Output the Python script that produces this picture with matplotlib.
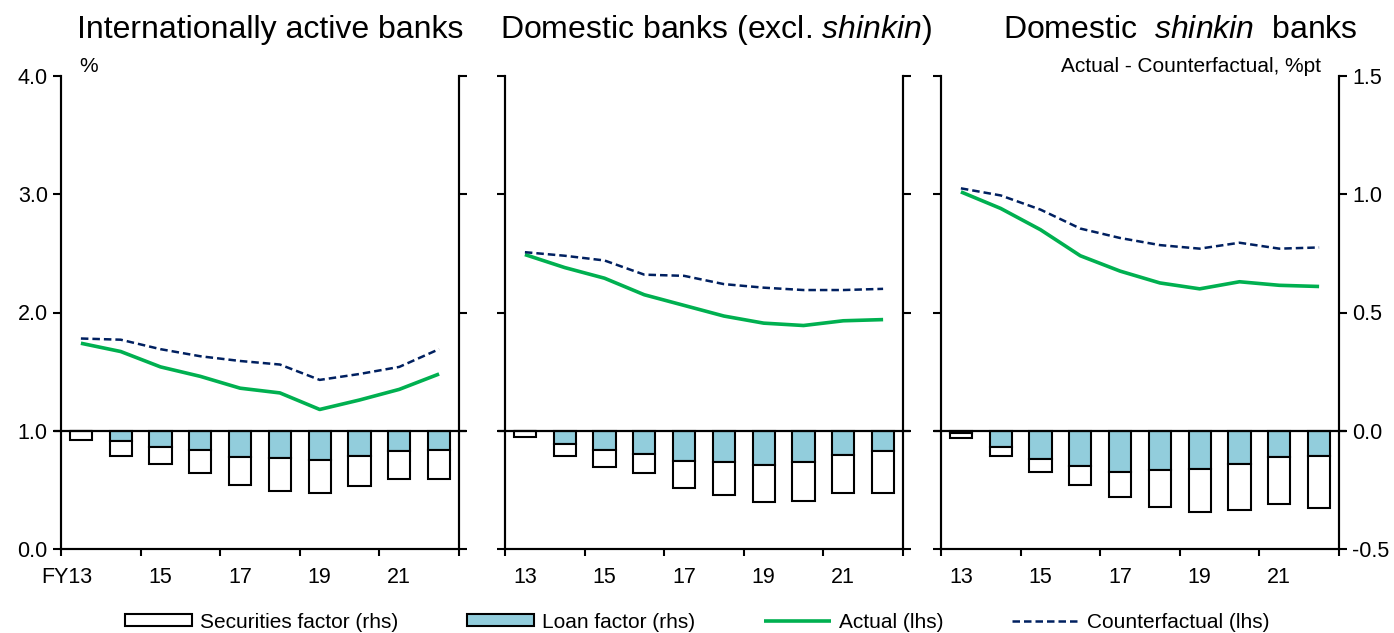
import numpy as np
import matplotlib
matplotlib.use("Agg")
import matplotlib.pyplot as plt
from matplotlib.ticker import FormatStrFormatter

plt.rcParams['font.family'] = ['Liberation Sans', 'DejaVu Sans']
plt.rcParams['mathtext.fontset'] = 'custom'
plt.rcParams['mathtext.rm'] = 'Liberation Sans'
plt.rcParams['mathtext.it'] = 'Liberation Sans:italic'

years = [13, 14, 15, 16, 17, 18, 19, 20, 21, 22]
year_labels = ['FY13', '15', '17', '19', '21']

# lhs, %
actual_intl = [1.74, 1.67, 1.54, 1.46, 1.36, 1.32, 1.18, 1.26, 1.35, 1.48]
counter_intl = [1.78, 1.77, 1.69, 1.63, 1.59, 1.56, 1.43, 1.48, 1.54, 1.69]
actual_dom = [2.49, 2.38, 2.29, 2.15, 2.06, 1.97, 1.91, 1.89, 1.93, 1.94]
counter_dom = [2.51, 2.48, 2.44, 2.32, 2.31, 2.24, 2.21, 2.19, 2.19, 2.20]
actual_shk = [3.02, 2.88, 2.70, 2.48, 2.35, 2.25, 2.20, 2.26, 2.23, 2.22]
counter_shk = [3.05, 2.99, 2.87, 2.71, 2.63, 2.57, 2.54, 2.59, 2.54, 2.55]

# rhs, %pt
loan_intl = [-0.003, -0.045, -0.067, -0.081, -0.109, -0.116, -0.123, -0.105, -0.085, -0.081]
sec_intl = [-0.038, -0.061, -0.075, -0.099, -0.120, -0.139, -0.142, -0.129, -0.118, -0.124]
loan_dom = [-0.003, -0.056, -0.082, -0.098, -0.129, -0.134, -0.145, -0.131, -0.101, -0.084]
sec_dom = [-0.022, -0.052, -0.073, -0.082, -0.113, -0.139, -0.157, -0.164, -0.163, -0.180]
loan_shk = [-0.010, -0.070, -0.120, -0.151, -0.173, -0.166, -0.162, -0.141, -0.109, -0.106]
sec_shk = [-0.022, -0.036, -0.053, -0.079, -0.106, -0.155, -0.183, -0.193, -0.201, -0.221]

titles = ['Internationally active banks',
          'Domestic banks (excl. $\\it{shinkin}$)',
          'Domestic  $\\it{shinkin}$  banks']
title_x = [0.194, 0.514, 0.847]

panels = [(actual_intl, counter_intl, loan_intl, sec_intl),
          (actual_dom, counter_dom, loan_dom, sec_dom),
          (actual_shk, counter_shk, loan_shk, sec_shk)]

green = '#00B050'
navy = '#002060'
blue = '#92CDDC'

W, H = 1394, 633
fig = plt.figure(figsize=(W / 100, H / 100), dpi=100)
lefts = [61, 505, 941]
pw = 398
top, bottom = 76, 549

x = np.arange(len(years)) + 0.5

for k, (act, cf, loan, sec) in enumerate(panels):
    ax = fig.add_axes([lefts[k] / W, (H - bottom) / H, pw / W, (bottom - top) / H])
    ax2 = ax.twinx()

    # stacked bars on the rhs scale
    ax2.bar(x, loan, width=0.56, color=blue, edgecolor='black', linewidth=1.5, zorder=2)
    ax2.bar(x, sec, bottom=loan, width=0.56, color='white', edgecolor='black', linewidth=1.5, zorder=2)
    ax2.axhline(0, xmin=-0.016, xmax=1.016, color='black', lw=1.6, clip_on=False, zorder=3)
    ax2.set_ylim(-0.5, 1.5)
    ax2.set_yticks([-0.5, 0.0, 0.5, 1.0, 1.5])

    ax.plot(x, act, color=green, lw=2.6, solid_capstyle='butt', label='Actual (lhs)')
    ax.plot(x, cf, color=navy, lw=1.8, ls=(0, (3, 1.6)), label='Counterfactual (lhs)')
    ax.set_zorder(ax2.get_zorder() + 1)
    ax.patch.set_visible(False)
    ax.set_ylim(0, 4)
    ax.set_yticks([0, 1, 2, 3, 4])
    ax.set_xlim(0, 10)
    ax.set_xticks(np.arange(0, 11, 2))
    ax.set_xticklabels([])

    # year labels sit under the odd-year bars
    lab_pos = x[::2].copy()
    if k == 0:
        lab_pos[0] = 0.78
        ax.set_xticks(lab_pos, minor=True)
        ax.set_xticklabels(year_labels, minor=True)
        ax.get_xticklabels(minor=True)[0].set_horizontalalignment('right')
    else:
        ax.set_xticks(lab_pos, minor=True)
        ax.set_xticklabels([s.replace('FY', '') for s in year_labels], minor=True)
    ax.tick_params(axis='x', which='minor', length=0, pad=13, labelsize=15.5)
    ax.tick_params(axis='x', which='major', direction='out', length=5, width=1.5)

    for a in (ax, ax2):
        a.spines['top'].set_visible(False)
        for s in ('left', 'right', 'bottom'):
            a.spines[s].set_linewidth(1.5)
        a.tick_params(axis='y', direction='out', length=6, width=1.5, labelsize=15.5)

    ax.yaxis.set_major_formatter(FormatStrFormatter('%.1f'))
    ax2.yaxis.set_major_formatter(FormatStrFormatter('%.1f'))
    if k != 0:
        ax.set_yticklabels([])
    if k != 2:
        ax2.set_yticklabels([])

    fig.text(title_x[k], 1 - 30 / H, titles[k], ha='center', va='center', fontsize=23)

    if k == 0:
        ax.text(0.045, 1.0, '%', transform=ax.transAxes, fontsize=15, va='bottom', ha='left')
        handles = [ax2.containers[1], ax2.containers[0]] + ax.get_lines()
    if k == 2:
        ax.text(0.955, 1.0, 'Actual - Counterfactual, %pt', transform=ax.transAxes,
                fontsize=15, va='bottom', ha='right')

fig.legend(handles, ['Securities factor (rhs)', 'Loan factor (rhs)', 'Actual (lhs)', 'Counterfactual (lhs)'],
           loc='center', bbox_to_anchor=(0.5, 1 - 622 / H), ncol=4, frameon=False,
           fontsize=15, handlelength=3.25, handleheight=0.45, columnspacing=3.3, handletextpad=0.35)

fig.savefig('out.png', dpi=100)
